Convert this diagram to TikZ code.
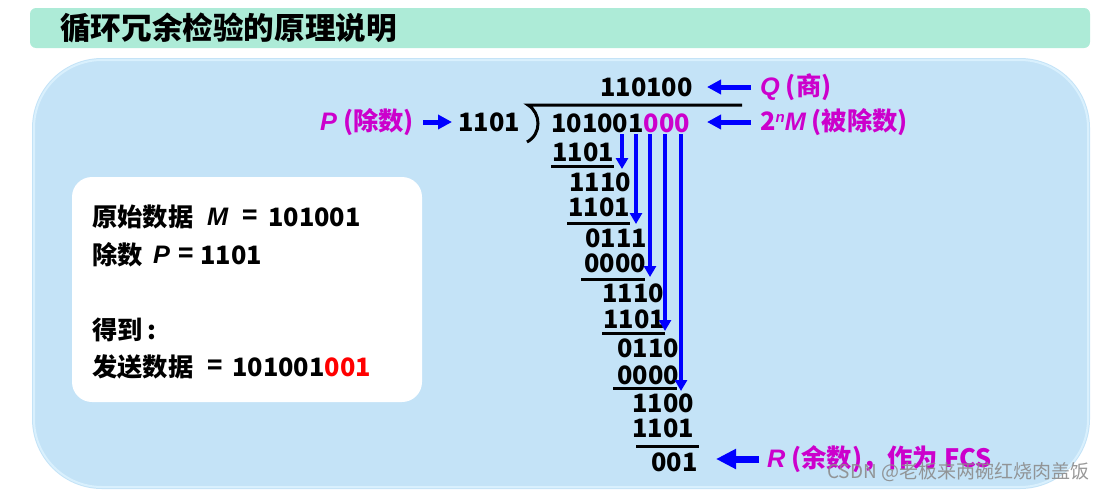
\documentclass[tikz,border=0pt]{standalone}
\usepackage{fontspec}
\setmainfont{Noto Sans CJK SC}
\newfontfamily\cjk{Noto Sans CJK SC}
\newfontfamily\latit{Liberation Sans}
\usetikzlibrary{arrows.meta}
\definecolor{titlebg}{HTML}{ADEBD7}
\definecolor{panelbg}{HTML}{C4E3F7}
\definecolor{panelhl}{HTML}{D9F0FD}
\definecolor{mag}{HTML}{CC00CC}
\definecolor{arrowblue}{HTML}{0000FF}
\definecolor{wm}{HTML}{8C8C8C}
\newcommand\zh[1]{{\cjk\bfseries #1}}
\newcommand\iv[1]{{\latit\bfseries\itshape #1}}
\tikzset{
  txt/.style={inner sep=0pt, anchor=west, font=\fontsize{25.3}{30}\selectfont\bfseries},
  ul/.style={line width=3pt},
  varrow/.style={arrowblue, line width=3.5pt, -{Triangle[length=11pt,width=12pt]}},
  harrow/.style={arrowblue, line width=5pt, -{Triangle[length=14pt,width=14pt]}},
  bigarrow/.style={arrowblue, line width=7pt, -{Triangle[length=20pt,width=19pt]}},
}
\begin{document}
\begin{tikzpicture}[x=1pt,y=-1pt]
\useasboundingbox (0,0) rectangle (1113,490);
% title bar
\fill[titlebg, rounded corners=6pt] (30,8) rectangle (1090,48);
\node[inner sep=0pt, anchor=west, font=\cjk\bfseries\fontsize{30.6}{34}\selectfont] (title) at (60,28) {循环冗余检验的原理说明};
% main panel
\fill[panelbg, rounded corners=70pt] (32,58) rectangle (1090,489);
\draw[panelhl, line width=2pt, rounded corners=68pt] (34,60) rectangle (1088,487);
% white box
\fill[white, rounded corners=20pt] (72,177) rectangle (422,402);
% white box text
\node[txt] (a1) at (92,217) {\zh{原始数据}};
\node[txt] (a2) at (207,217) {\iv{M}};
\node[txt] (a3) at (242,217) {=};
\node[txt] (a4) at (268,217) {101001};
\node[txt] (b1) at (92,255) {\zh{除数}};
\node[txt] (b2) at (153,255) {\iv{P}};
\node[txt] (b3) at (178,255) {=};
\node[txt] (b4) at (200,255) {1101};
\node[txt] (c1) at (92,330) {\zh{得到}\,:};
\node[txt] (d1) at (92,367) {\zh{发送数据}};
\node[txt] (d2) at (207,367) {=};
\node[txt] (d3) at (232,367) {101001\textcolor{red}{001}};
% divisor label
\node[txt, text=mag] (plab) at (320,122) {\iv{P}\hspace{6pt}(\zh{除数})};
\node[txt] (div) at (458,122) {1101};
\coordinate (pa1) at (423,122);
\coordinate (pa2) at (452,122);
\draw[harrow] (pa1) -- (pa2);
% bracket and bar
\coordinate (br1) at (528,105);
\coordinate (br2) at (527,142);
\coordinate (bar2) at (742,105);
\draw[line width=3pt] (bar2) -- (br1) .. controls (541,113) and (542,134) .. (br2);
% quotient and dividend
\node[txt] (q) at (600,87) {110100};
\node[txt] (dd) at (551,123) {101001\textcolor{mag}{000}};
% rows
\node[txt] (r1) at (552,152) {1101};
\node[txt] (r2) at (569,182) {1110};
\node[txt] (r3) at (568,207) {1101};
\node[txt] (r4) at (585,238) {0111};
\node[txt] (r5) at (584,263) {0000};
\node[txt] (r6) at (602,293) {1110};
\node[txt] (r7) at (603,319) {1101};
\node[txt] (r8) at (617,348) {0110};
\node[txt] (r9) at (617,375) {0000};
\node[txt] (r10) at (632,403) {1100};
\node[txt] (r11) at (632,428) {1101};
\node[txt] (r12) at (651,462) {001};
% underlines
\coordinate (u1a) at (551,166); \coordinate (u1b) at (614,166);
\coordinate (u2a) at (567,223); \coordinate (u2b) at (630,223);
\coordinate (u3a) at (581,279); \coordinate (u3b) at (645,279);
\coordinate (u4a) at (602,333); \coordinate (u4b) at (665,333);
\coordinate (u5a) at (613,388); \coordinate (u5b) at (677,388);
\coordinate (u6a) at (636,446); \coordinate (u6b) at (699,446);
\foreach \i in {1,...,6} \draw[ul] (u\i a) -- (u\i b);
% vertical arrows
\coordinate (v1a) at (622,134); \coordinate (v1b) at (622,169);
\coordinate (v2a) at (636,134); \coordinate (v2b) at (636,224);
\coordinate (v3a) at (650,134); \coordinate (v3b) at (650,277);
\coordinate (v4a) at (665,134); \coordinate (v4b) at (665,331);
\coordinate (v5a) at (681,134); \coordinate (v5b) at (681,391);
\foreach \i in {1,...,5} \draw[varrow] (v\i a) -- (v\i b);
% right labels
\coordinate (qa1) at (751,87); \coordinate (qa2) at (707,87);
\draw[harrow] (qa1) -- (qa2);
\node[txt, text=mag] (qlab) at (760,87) {\iv{Q}\hspace{6pt}(\zh{商})};
\coordinate (ma1) at (751,122); \coordinate (ma2) at (707,122);
\draw[harrow] (ma1) -- (ma2);
\node[txt, text=mag] (mlab) at (760,122) {2\raisebox{8pt}{\fontsize{15}{15}\selectfont\iv{n}}\iv{M}\hspace{6pt}(\zh{被除数})};
\coordinate (ra1) at (759,459); \coordinate (ra2) at (716,459);
\draw[bigarrow] (ra1) -- (ra2);
\node[txt, text=mag] (rlab) at (767,459) {\iv{R}\hspace{6pt}(\zh{余数})\zh{，作为}\hspace{6pt}FCS};
% watermark
\node[inner sep=0pt, anchor=west, text=wm, opacity=0.9, font=\cjk\fontsize{19}{22}\selectfont] (wmk) at (827,472) {CSDN @老板来两碗红烧肉盖饭};
\end{tikzpicture}
\end{document}
